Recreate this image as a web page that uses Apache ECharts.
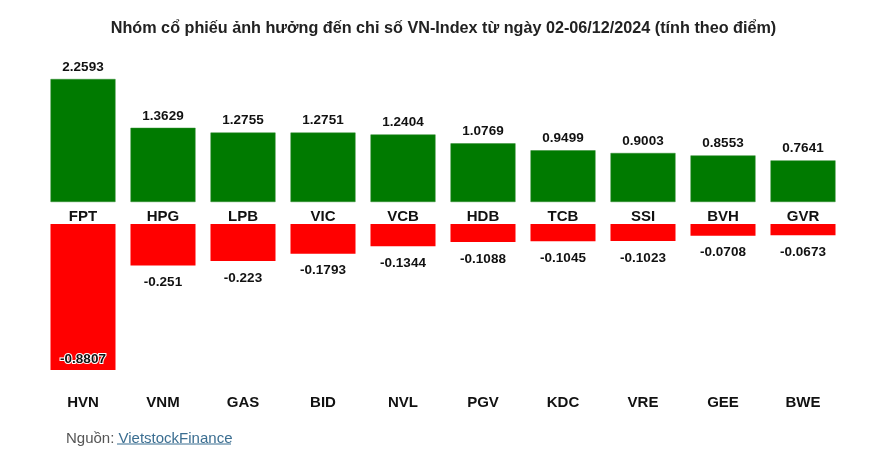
<!DOCTYPE html>
<html><head><meta charset="utf-8">
<script src="https://cdn.jsdelivr.net/npm/echarts@6/dist/echarts.min.js"></script>
<style>html,body{margin:0;padding:0;background:#fff}#c{width:887px;height:461px}</style>
</head><body><div id="c"></div>
<script>
const titleText = 'Nhóm cổ phiếu ảnh hưởng đến chỉ số VN-Index từ ngày 02-06/12/2024 (tính theo điểm)';
const posCategories = ['FPT','HPG','LPB','VIC','VCB','HDB','TCB','SSI','BVH','GVR'];
const posValues = [2.2593,1.3629,1.2755,1.2751,1.2404,1.0769,0.9499,0.9003,0.8553,0.7641];
const negCategories = ['HVN','VNM','GAS','BID','NVL','PGV','KDC','VRE','GEE','BWE'];
const negValues = [-0.8807,-0.251,-0.223,-0.1793,-0.1344,-0.1088,-0.1045,-0.1023,-0.0708,-0.0673];
const sourceLabel = 'Nguồn: ';
const sourceLink = 'VietstockFinance';

const FONT = 'Arial, "Liberation Sans", sans-serif';
const chart = echarts.init(document.getElementById('c'));
const negData = negValues.map((v, i) => {
  if (i === 0) {
    return {value: v, label: {position: 'insideBottom', distance: 4, textBorderColor: '#fff', textBorderWidth: 2}};
  }
  return v;
});
chart.setOption({
  animation: false,
  title: [{
    text: titleText, left: 'center', top: 16,
    textStyle: {fontFamily: FONT, fontSize: 16.2, fontWeight: 'bold', color: '#222'}
  }, {
    text: '{a|' + sourceLabel + '}{b|' + sourceLink + '}', left: 61, top: 426,
    textStyle: {fontWeight: 'normal', rich: {
      a: {fontFamily: FONT, fontSize: 15, fontWeight: 'normal', color: '#555'},
      b: {fontFamily: FONT, fontSize: 15, fontWeight: 'normal', color: '#3b6e91'}
    }}
  }],
  graphic: [{
    type: 'line', shape: {x1: 117, y1: 444, x2: 231, y2: 444},
    style: {stroke: '#3b6e91', lineWidth: 1}
  }],
  grid: [
    {left: 43, right: 44, top: 79, height: 123},
    {left: 43, right: 44, top: 224, height: 146}
  ],
  xAxis: [{
    type: 'category', gridIndex: 0, data: posCategories,
    axisLine: {show: false}, axisTick: {show: false},
    axisLabel: {fontFamily: FONT, fontSize: 15, fontWeight: 'bold', color: '#111', margin: 7}
  }, {
    type: 'category', gridIndex: 1, data: negCategories, position: 'bottom',
    axisLine: {show: false, onZero: false}, axisTick: {show: false},
    axisLabel: {fontFamily: FONT, fontSize: 15, fontWeight: 'bold', color: '#111', margin: 25}
  }],
  yAxis: [{
    type: 'value', gridIndex: 0, min: 0, max: 'dataMax', show: false, splitLine: {show: false}
  }, {
    type: 'value', gridIndex: 1, min: 'dataMin', max: 0, show: false, splitLine: {show: false}
  }],
  series: [{
    type: 'bar', xAxisIndex: 0, yAxisIndex: 0, data: posValues, barWidth: 65,
    itemStyle: {color: '#007a00', borderColor: '#2e8b2e', borderWidth: 0.5},
    label: {show: true, position: 'top', distance: 5, fontFamily: FONT, fontSize: 13.5, fontWeight: 'bold', color: '#111',
      formatter: p => String(p.value)}
  }, {
    type: 'bar', xAxisIndex: 1, yAxisIndex: 1, data: negData, barWidth: 65,
    itemStyle: {color: '#ff0000'},
    label: {show: true, position: 'bottom', distance: 10, fontFamily: FONT, fontSize: 13.5, fontWeight: 'bold', color: '#111',
      formatter: p => String(p.value)}
  }]
});
</script></body></html>
